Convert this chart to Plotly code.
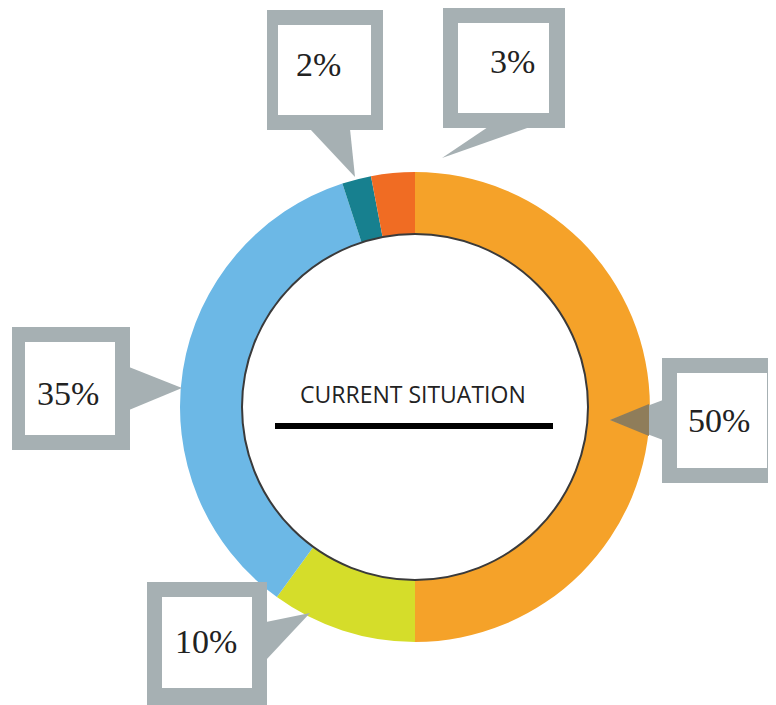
import plotly.graph_objects as go

# ---- data ----
labels = ["Segment A", "Segment B", "Segment C", "Segment D", "Segment E"]
values = [50, 10, 35, 2, 3]
colors = ["#F5A229", "#D5DD2A", "#6CB8E6", "#17808F", "#F06C23"]
callout_text = ["50%", "10%", "35%", "2%", "3%"]
center_title = "CURRENT SITUATION"

W, H = 776, 705
OFF = 8  # page body margin offset
CX, CY, R = 415, 407, 235
HOLE_R = 173
GREY = "#A6B0B3"


def px(x):
    return (x - OFF) / W


def py(y):
    return 1 - (y - OFF) / H


def path(points):
    return "M " + " L ".join(f"{px(x):.5f},{py(y):.5f}" for x, y in points) + " Z"


fig = go.Figure()
fig.add_trace(go.Pie(
    labels=labels, values=values, sort=False, direction="clockwise",
    rotation=0, hole=HOLE_R / R,
    marker=dict(colors=colors, line=dict(width=0)),
    textinfo="none", hoverinfo="skip", showlegend=False,
    domain=dict(x=[px(CX - R), px(CX + R)], y=[py(CY + R), py(CY - R)]),
))

shapes = []
# inner circle outline
shapes.append(dict(type="circle", xref="paper", yref="paper",
                   x0=px(CX - HOLE_R), x1=px(CX + HOLE_R),
                   y0=py(CY + HOLE_R), y1=py(CY - HOLE_R),
                   line=dict(color="#3a3a3a", width=2), layer="above"))

# callout boxes: (outer box, inner box, pointer triangle, text centre)
callouts = [
    # 50%
    dict(outer=(662, 358, 790, 483), inner=(677, 373, 767, 468),
         ptr=[(663, 400), (663, 440), (610, 420)], txt=(719, 421)),
    # 10%
    dict(outer=(147, 582, 267, 715), inner=(162, 597, 252, 688),
         ptr=[(266, 622), (266, 660), (310, 613)], txt=(206, 641)),
    # 35%
    dict(outer=(12, 327, 130, 450), inner=(25, 342, 115, 435),
         ptr=[(129, 367), (129, 410), (182, 388)], txt=(68, 393)),
    # 2%
    dict(outer=(267, 10, 383, 130), inner=(278, 25, 371, 115),
         ptr=[(310, 129), (350, 129), (355, 177)], txt=(318, 64)),
    # 3%
    dict(outer=(443, 8, 565, 128), inner=(458, 23, 549, 113),
         ptr=[(488, 127), (530, 127), (442, 158)], txt=(512, 61)),
]

for c in callouts:
    x0, y0, x1, y1 = c["outer"]
    shapes.append(dict(type="rect", xref="paper", yref="paper",
                       x0=px(x0), x1=px(x1), y0=py(y1), y1=py(y0),
                       fillcolor=GREY, line=dict(width=0), layer="above"))
    x0, y0, x1, y1 = c["inner"]
    shapes.append(dict(type="rect", xref="paper", yref="paper",
                       x0=px(x0), x1=px(x1), y0=py(y1), y1=py(y0),
                       fillcolor="white", line=dict(width=0), layer="above"))
    shapes.append(dict(type="path", xref="paper", yref="paper",
                       path=path(c["ptr"]), fillcolor=GREY,
                       line=dict(width=0), layer="above"))

# darker part of the 50% pointer where it lies over the orange ring
shapes.append(dict(type="path", xref="paper", yref="paper",
                   path=path([(649, 404), (649, 436), (610, 420)]),
                   fillcolor="#8F7D5A", line=dict(width=0), layer="above"))

# underline in centre
shapes.append(dict(type="rect", xref="paper", yref="paper",
                   x0=px(275), x1=px(553), y0=py(429), y1=py(423),
                   fillcolor="black", line=dict(width=0), layer="above"))

annotations = []
for c, t in zip(callouts, callout_text):
    annotations.append(dict(text=t, xref="paper", yref="paper",
                            x=px(c["txt"][0]), y=py(c["txt"][1]),
                            xanchor="center", yanchor="middle", showarrow=False,
                            font=dict(family="Liberation Serif", size=34, color="#222222")))
annotations.append(dict(text=center_title, xref="paper", yref="paper",
                        x=px(413), y=py(394), xanchor="center", yanchor="middle",
                        showarrow=False,
                        font=dict(family="Open Sans", size=23, color="#222222")))

fig.update_layout(
    width=W, height=H, margin=dict(l=0, r=0, t=0, b=0),
    paper_bgcolor="white", plot_bgcolor="white",
    shapes=shapes, annotations=annotations, showlegend=False,
)

fig.write_html("out.html")
